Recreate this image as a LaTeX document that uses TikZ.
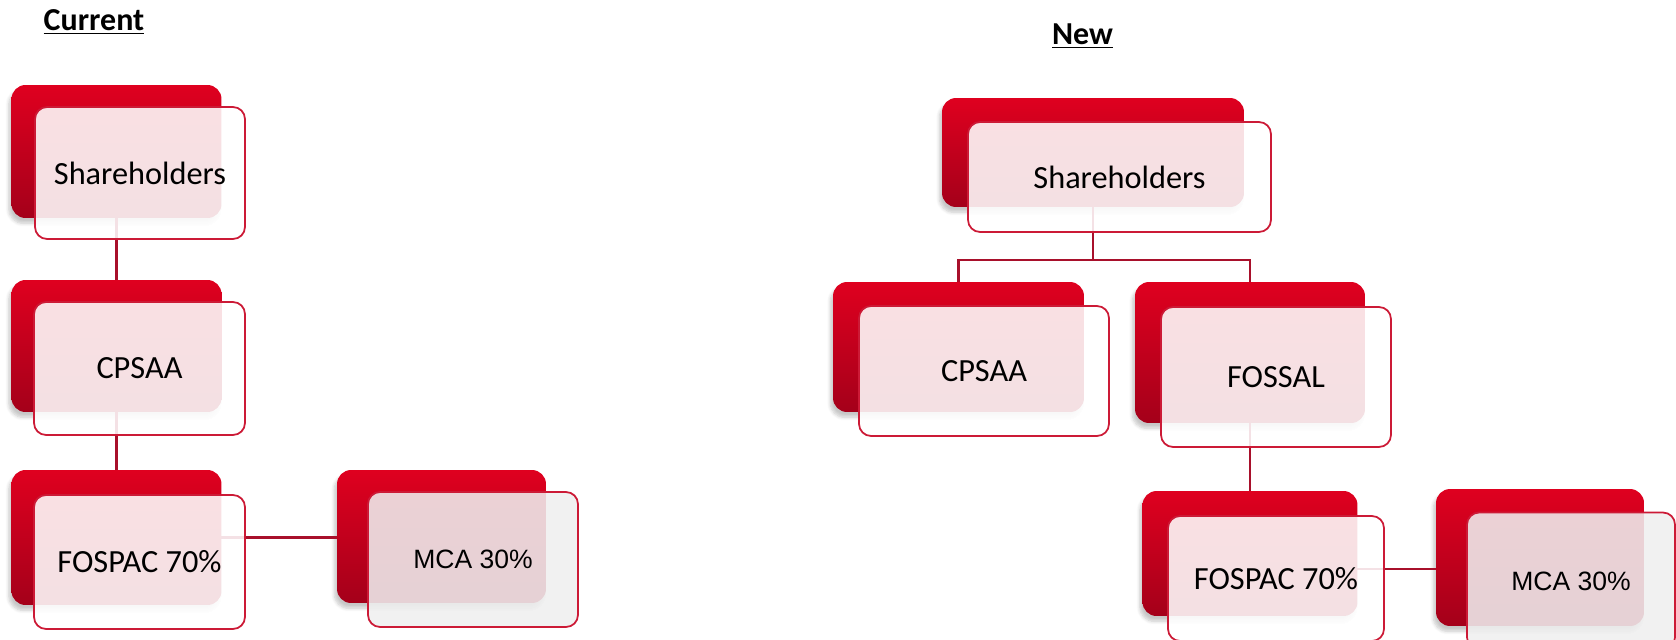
\documentclass[tikz,border=0pt]{standalone}
\usepackage{fontspec}
\setmainfont{Carlito}
\newfontfamily\arialfont{Liberation Sans}
\usepackage{tikz}
\usetikzlibrary{shadows.blur}
\definecolor{redtop}{HTML}{DF001F}
\definecolor{redbot}{HTML}{A4001A}
\definecolor{edgered}{HTML}{CC1A36}
\definecolor{linkred}{HTML}{A8102B}
\definecolor{mcagray}{HTML}{EFEFEF}
\tikzset{
    backbox/.style = {rectangle, rounded corners=0.28cm, inner sep=0pt, outer sep=0pt, draw=none,
        top color=redtop, bottom color=redbot,
        blur shadow={shadow xshift=-1.5pt, shadow yshift=-3pt, shadow blur steps=6, shadow opacity=22}},
    frontbox/.style = {rectangle, rounded corners=0.24cm, inner sep=0pt, outer sep=0pt, draw=edgered,
        line width=0.035cm, fill=white, fill opacity=0.88, text opacity=1, align=center,
        font=\fontsize{18.4}{21}\selectfont},
    mcabox/.style = {frontbox, fill=mcagray, font=\arialfont\fontsize{15.1}{18}\selectfont},
    link/.style = {draw=linkred, line width=0.045cm},
    heading/.style = {inner sep=0pt, font=\bfseries\fontsize{18.2}{21}\selectfont}
}
\begin{document}
\begin{tikzpicture}[x=0.02cm, y=-0.02cm]
\useasboundingbox (0,0) rectangle (1676,639);
% current structure
\node[backbox, minimum width=4.2cm, minimum height=2.66cm] at (116.5,151.5) (sh1) {};
\node[backbox, minimum width=4.2cm, minimum height=2.64cm] at (116.5,346) (cp1) {};
\node[backbox, minimum width=4.2cm, minimum height=2.7cm] at (116.5,537.5) (fp1) {};
\node[backbox, minimum width=4.18cm, minimum height=2.66cm] at (441.5,536.5) (mc1) {};
%
\draw[link] (sh1.south) -- (cp1.north);
\draw[link] (cp1.south) -- (fp1.north);
\draw[link] (fp1.east) -- (fp1.east -| mc1.west);
%
\node[frontbox, minimum width=4.2cm, minimum height=2.64cm] at (140,173) (sh1f) {Shareholders};
\node[frontbox, minimum width=4.22cm, minimum height=2.66cm] at (139.5,368.5) (cp1f) {CPSAA};
\node[frontbox, minimum width=4.22cm, minimum height=2.68cm] at (139.5,562) (fp1f) {FOSPAC 70\%};
\node[mcabox, minimum width=4.2cm, minimum height=2.7cm] at (473,559.5) (mc1f) {MCA 30\%};
%
% new structure
\node[backbox, minimum width=6.04cm, minimum height=2.18cm] at (1093,152.5) (sh2) {};
\node[backbox, minimum width=5.02cm, minimum height=2.6cm] at (958.5,347) (cp2) {};
\node[backbox, minimum width=4.6cm, minimum height=2.82cm] at (1250,352.5) (fs2) {};
\node[backbox, minimum width=4.3cm, minimum height=2.5cm] at (1250,553.5) (fp2) {};
\node[backbox, minimum width=4.16cm, minimum height=2.74cm] at (1540,557.5) (mc2) {};
%
\coordinate (j2) at (1093,260);
\draw[link] (sh2.south) -- (j2) -| (cp2.north);
\draw[link] (j2) -| (fs2.north);
\draw[link] (fs2.south) -- (fp2.north);
\draw[link] ([yshift=-0.31cm]fp2.east) -- ([yshift=-0.31cm]fp2.east -| mc2.west);
%
\node[frontbox, minimum width=6.06cm, minimum height=2.2cm] at (1119.5,177) (sh2f) {Shareholders};
\node[frontbox, minimum width=5cm, minimum height=2.6cm] at (984,371) (cp2f) {CPSAA};
\node[frontbox, minimum width=4.6cm, minimum height=2.8cm] at (1276,377) (fs2f) {FOSSAL};
\node[frontbox, minimum width=4.32cm, minimum height=2.5cm] at (1276,578.5) (fp2f) {FOSPAC 70\%};
\node[mcabox, minimum width=4.16cm, minimum height=2.74cm] at (1571,581) (mc2f) {MCA 30\%};
%
\node[heading] at (94,22) (t1) {\underline{Current}};
\node[heading] at (1082.5,36.5) (t2) {\underline{New}};
\end{tikzpicture}
\end{document}
